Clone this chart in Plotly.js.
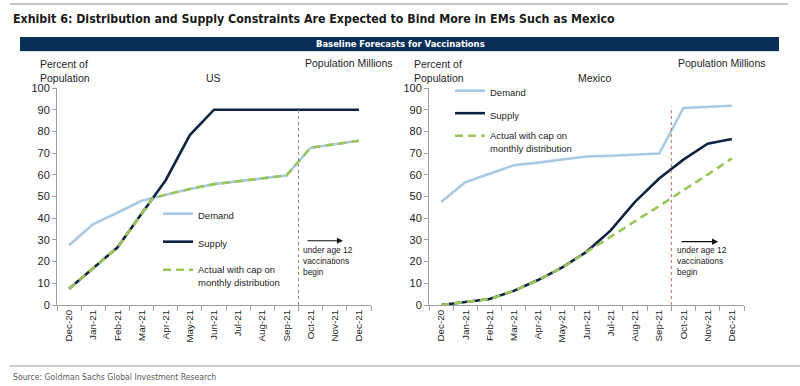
<!DOCTYPE html>
<html>
<head>
<meta charset="utf-8">
<script src="https://cdn.plot.ly/plotly-3.0.1.min.js"></script>
<style>
html,body{margin:0;padding:0;background:#fff;}
#chart{width:800px;height:386px;}
</style>
</head>
<body>
<div id="chart"></div>
<script>
// ---- data ----
const months = ['Dec-20','Jan-21','Feb-21','Mar-21','Apr-21','May-21','Jun-21','Jul-21','Aug-21','Sep-21','Oct-21','Nov-21','Dec-21'];
const monthIdx = [0,1,2,3,4,5,6,7,8,9,10,11,12];

const usDemand = [27.5, 37.3, 42.5, 48, 50.8, 53.5, 55.7, 57, 58.3, 59.7, 72.5, 74, 75.7];
const usSupply = [7.5, 17, 26.5, 42, 57.5, 78.3, 90, 90, 90, 90, 90, 90, 90];
const usActualX = [0, 1, 2, 3, 3.47, 4, 5, 6, 7, 8, 9, 10, 11, 12];
const usActual = [7.5, 17, 26.5, 42, 49.3, 50.8, 53.5, 55.7, 57, 58.3, 59.7, 72.5, 74, 75.7];

const mxDemand = [47.5, 56.6, 60.5, 64.4, 65.6, 67, 68.4, 68.8, 69.2, 69.8, 90.8, 91.3, 91.8];
const mxSupply = [0, 1.3, 2.8, 6.5, 11.5, 17.3, 24.5, 34.4, 47.5, 58.3, 67, 74.3, 76.5];
const mxActual = [0, 1.3, 2.8, 6.5, 11.5, 17.3, 24.5, 31.6, 38.6, 45.6, 52.7, 60.1, 67.6];

const leftTicks = [0,10,20,30,40,50,60,70,80,90,100];
const usPopMillions = 330;   // right axis: 100% of population
const mxPopMillions = 128.9;

const seriesNames = ['Demand', 'Supply', 'Actual with cap on<br>monthly distribution'];

// ---- styles ----
const cDemand = '#a8cae3', cSupply = '#0e2442', cActual = '#9cc65a';
const axisCol = '#a0a0a0';
const txtCol = '#1e1e1e';
const fBase = 'Liberation Sans, Arial, sans-serif';
const fNarrow = 'Liberation Sans Narrow, DejaVu Sans Condensed, Arial Narrow, sans-serif';

function P(px){ return px/800; }
function PY(py){ return (386-py)/386; }

const traces = [
  {x: monthIdx, y: usDemand, name: seriesNames[0], type:'scatter', mode:'lines', line:{color:cDemand, width:2.6}, xaxis:'x', yaxis:'y', legend:'legend', legendgroup:'a'},
  {x: monthIdx, y: usSupply, name: seriesNames[1], type:'scatter', mode:'lines', line:{color:cSupply, width:2.6}, xaxis:'x', yaxis:'y', legend:'legend', legendgroup:'b'},
  {x: usActualX, y: usActual, name: seriesNames[2], type:'scatter', mode:'lines', line:{color:cActual, width:2.6, dash:'8px,5px'}, xaxis:'x', yaxis:'y', legend:'legend', legendgroup:'c'},
  {x: monthIdx, y: mxDemand, name: seriesNames[0], type:'scatter', mode:'lines', line:{color:cDemand, width:2.6}, xaxis:'x2', yaxis:'y3', legend:'legend2', legendgroup:'d'},
  {x: monthIdx, y: mxSupply, name: seriesNames[1], type:'scatter', mode:'lines', line:{color:cSupply, width:2.6}, xaxis:'x2', yaxis:'y3', legend:'legend2', legendgroup:'e'},
  {x: monthIdx, y: mxActual, name: seriesNames[2], type:'scatter', mode:'lines', line:{color:cActual, width:2.6, dash:'8px,5px'}, xaxis:'x2', yaxis:'y3', legend:'legend2', legendgroup:'f'}
];

function xAxis(domain, anchor){
  return {
    domain: domain, anchor: anchor, range: [-0.5, 12.5],
    tickvals: monthIdx, ticktext: months, tickangle: -90,
    ticks: '', showgrid: false, zeroline: false,
    showline: true, linecolor: axisCol, linewidth: 1,
    tickfont: {family: fBase, size: 9.8, color: txtCol},
    minor: {tick0: -0.5, dtick: 1, ticks: 'outside', ticklen: 5, tickcolor: axisCol, tickwidth: 1, showgrid: false},
    fixedrange: true
  };
}
function yLeft(anchor){
  return {
    domain: [PY(305), PY(88)], anchor: anchor, range: [0, 100],
    tickvals: leftTicks, ticks: 'outside', ticklen: 4, tickcolor: axisCol,
    showgrid: false, zeroline: false, showline: true, linecolor: axisCol, linewidth: 1,
    tickfont: {family: fBase, size: 11, color: txtCol}, fixedrange: true
  };
}
function yRight(over, anchor, maxv, dt){
  return {
    overlaying: over, anchor: anchor, side: 'right', range: [0, maxv], dtick: dt, tick0: 0,
    ticks: 'outside', ticklen: 4, tickcolor: axisCol,
    showgrid: false, zeroline: false, showline: true, linecolor: axisCol, linewidth: 1,
    tickfont: {family: fBase, size: 11, color: txtCol}, fixedrange: true
  };
}

const annFont = {family: fBase, size: 10.5, color: txtCol};
const annotations = [
  {xref:'paper', yref:'paper', x:P(11), y:PY(19), xanchor:'left', yanchor:'middle', showarrow:false,
   text:'<b>Exhibit 6: Distribution and Supply Constraints Are Expected to Bind More in EMs Such as Mexico</b>',
   font:{family:fNarrow, size:12.3, color:'#1a1a1a'}},
  {xref:'paper', yref:'paper', x:0.5, y:PY(44), xanchor:'center', yanchor:'middle', showarrow:false,
   text:'<b>Baseline Forecasts for Vaccinations</b>', font:{family:fNarrow, size:9.4, color:'#ffffff'}},
  {xref:'paper', yref:'paper', x:P(11), y:PY(377), xanchor:'left', yanchor:'middle', showarrow:false,
   text:'Source: Goldman Sachs Global Investment Research', font:{family:fNarrow, size:8.6, color:'#5a5a5a'}},

  {xref:'paper', yref:'paper', x:P(38), y:PY(70.7), xanchor:'left', yanchor:'middle', align:'left', showarrow:false,
   text:'Percent of<br>Population', font:annFont},
  {xref:'paper', yref:'paper', x:P(349), y:PY(63.3), xanchor:'center', yanchor:'middle', showarrow:false,
   text:'Population Millions', font:annFont},
  {xref:'paper', yref:'paper', x:P(213), y:PY(78.3), xanchor:'center', yanchor:'middle', showarrow:false,
   text:'US', font:annFont},

  {xref:'paper', yref:'paper', x:P(411.7), y:PY(70.7), xanchor:'left', yanchor:'middle', align:'left', showarrow:false,
   text:'Percent of<br>Population', font:annFont},
  {xref:'paper', yref:'paper', x:P(722), y:PY(63.3), xanchor:'center', yanchor:'middle', showarrow:false,
   text:'Population Millions', font:annFont},
  {xref:'paper', yref:'paper', x:P(594), y:PY(78.3), xanchor:'center', yanchor:'middle', showarrow:false,
   text:'Mexico', font:annFont},

  {xref:'x', yref:'y', axref:'x', ayref:'y', x:11.34, y:29.6, ax:9.81, ay:29.6, text:'', showarrow:true,
   arrowhead:2, arrowsize:1.1, arrowwidth:1.1, arrowcolor:'#111', standoff:0},
  {xref:'paper', yref:'paper', x:P(301), y:PY(261.3), xanchor:'left', yanchor:'middle', align:'left', showarrow:false,
   text:'under age 12<br>vaccinations<br>begin', font:{family:fBase, size:8.4, color:'#222'}},
  {xref:'x2', yref:'y3', axref:'x2', ayref:'y3', x:11.43, y:29.2, ax:9.86, ay:29.2, text:'', showarrow:true,
   arrowhead:2, arrowsize:1.1, arrowwidth:1.1, arrowcolor:'#111', standoff:0},
  {xref:'paper', yref:'paper', x:P(675), y:PY(261.3), xanchor:'left', yanchor:'middle', align:'left', showarrow:false,
   text:'under age 12<br>vaccinations<br>begin', font:{family:fBase, size:8.4, color:'#222'}}
];

const shapes = [
  {type:'line', xref:'paper', yref:'paper', x0:P(10), x1:P(788), y0:PY(4), y1:PY(4), line:{color:'#c4c4c4', width:2}},
  {type:'rect', xref:'paper', yref:'paper', x0:P(20), x1:P(779), y0:PY(51), y1:PY(37), fillcolor:'#0a3058', line:{width:0}},
  {type:'line', xref:'paper', yref:'paper', x0:P(20), x1:P(779), y0:PY(51.5), y1:PY(51.5), line:{color:'#cfe6f3', width:1}},
  {type:'line', xref:'paper', yref:'paper', x0:P(10), x1:P(800), y0:PY(366), y1:PY(366), line:{color:'#bdbdbd', width:1.5}},
  {type:'line', xref:'x', yref:'y', x0:9.5, x1:9.5, y0:0, y1:90, line:{color:'#8a8a8a', width:1, dash:'dot'}},
  {type:'line', xref:'x2', yref:'y3', x0:9.5, x1:9.5, y0:0, y1:91.5, line:{color:'#c06a6a', width:1, dash:'dot'}}
];

const legFont = {family: fBase, size: 9.5, color: txtCol};
const layout = {
  width: 800, height: 386,
  margin: {l:0, r:0, t:0, b:0},
  paper_bgcolor: '#ffffff', plot_bgcolor: '#ffffff',
  showlegend: true,
  xaxis: xAxis([P(57), P(371)], 'y'),
  yaxis: yLeft('x'),
  yaxis2: yRight('y', 'x', usPopMillions, 50),
  xaxis2: xAxis([P(429), P(744)], 'y3'),
  yaxis3: yLeft('x2'),
  yaxis4: yRight('y3', 'x2', mxPopMillions, 20),
  legend: {x:P(158), y:PY(201), xanchor:'left', yanchor:'top', bgcolor:'rgba(0,0,0,0)', borderwidth:0,
           font:legFont, traceorder:'grouped', tracegroupgap:9, valign:'top', itemwidth:30},
  legend2: {x:P(450), y:PY(78), xanchor:'left', yanchor:'top', bgcolor:'rgba(0,0,0,0)', borderwidth:0,
           font:legFont, traceorder:'grouped', tracegroupgap:3.5, valign:'top', itemwidth:30},
  annotations: annotations,
  shapes: shapes
};

Plotly.newPlot('chart', traces, layout, {staticPlot: true, displayModeBar: false});
</script>
</body>
</html>
